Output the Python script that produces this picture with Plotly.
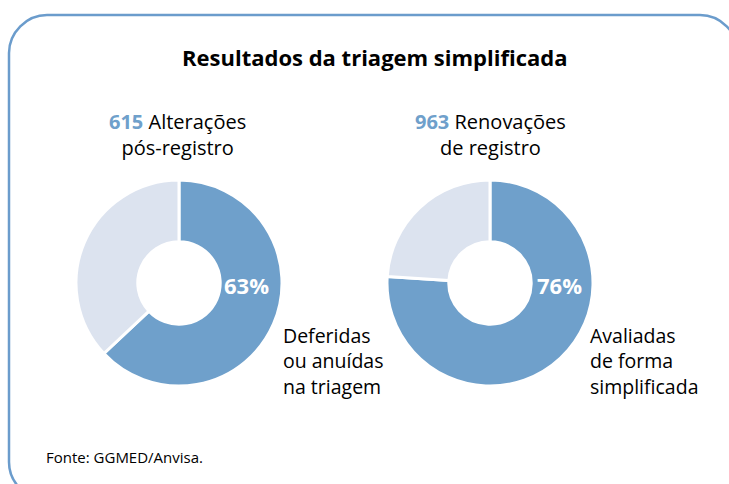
import plotly.graph_objects as go

W, H = 729, 484

title = "Resultados da triagem simplificada"
totals = [615, 963]
total_labels = [["Alterações", "pós-registro"], ["Renovações", "de registro"]]
slice_names = ["Simplificada", "Outras"]
shares = [[63, 37], [76, 24]]
pct_labels = ["63%", "76%"]
side_labels = [["Deferidas", "ou anuídas", "na triagem"], ["Avaliadas", "de forma", "simplificada"]]
source = "Fonte: GGMED/Anvisa."

BLUE = "#6fa0cb"
LIGHT = "#dce3ef"
BORDER = "#6b9ccc"
FONT = "Open Sans"

def px(x):
    return x / W

def py(y):
    return 1 - y / H

fig = go.Figure()

centers = [(179, 283), (490, 283)]
R = 103
for i, (cx, cy) in enumerate(centers):
    fig.add_trace(go.Pie(
        labels=slice_names,
        values=shares[i],
        sort=False,
        direction="clockwise",
        rotation=0,
        hole=0.4,
        marker=dict(colors=[BLUE, LIGHT], line=dict(color="white", width=3)),
        textinfo="none",
        hoverinfo="label+percent",
        domain=dict(x=[px(cx - R), px(cx + R)], y=[py(cy + R), py(cy - R)]),
        showlegend=False,
    ))

annotations = []
annotations.append(dict(text=f"<b>{title}</b>", x=px(375), y=py(57), xref="paper", yref="paper",
                        showarrow=False, font=dict(family=FONT, size=22, color="black"),
                        xanchor="center", yanchor="middle"))
tops = [(177, 122), (490, 122)]
for i, (tx, ty) in enumerate(tops):
    txt = f"<b><span style='color:{BLUE}'>{totals[i]}</span></b> {total_labels[i][0]}<br>{total_labels[i][1]}"
    annotations.append(dict(text=txt, x=px(tx), y=py(ty + 12), xref="paper", yref="paper",
                            showarrow=False, font=dict(family=FONT, size=20, color="black"),
                            xanchor="center", yanchor="middle", align="center"))
pcts = [(246, 285), (559, 285)]
for i, (tx, ty) in enumerate(pcts):
    annotations.append(dict(text=f"<b>{pct_labels[i]}</b>", x=px(tx), y=py(ty), xref="paper", yref="paper",
                            showarrow=False, font=dict(family=FONT, size=22, color="white"),
                            xanchor="center", yanchor="middle"))
sides = [(281, 361), (588, 361)]
for i, (tx, ty) in enumerate(sides):
    annotations.append(dict(text="<br>".join(side_labels[i]), x=px(tx), y=py(ty), xref="paper", yref="paper",
                            showarrow=False, font=dict(family=FONT, size=19.5, color="black"),
                            xanchor="left", yanchor="middle", align="left"))
annotations.append(dict(text=source, x=px(44), y=py(457), xref="paper", yref="paper",
                        showarrow=False, font=dict(family=FONT, size=15, color="black"),
                        xanchor="left", yanchor="middle"))

# rounded frame
L, T, Rr, B, r = 9, 15, 738, 500, 38
k = 0.54 * r
pts = [
    f"M {px(L+r)},{py(T)}",
    f"L {px(Rr-r)},{py(T)}",
    f"C {px(Rr-r+k)},{py(T)} {px(Rr)},{py(T+r-k)} {px(Rr)},{py(T+r)}",
    f"L {px(Rr)},{py(B-r)}",
    f"C {px(Rr)},{py(B-r+k)} {px(Rr-r+k)},{py(B)} {px(Rr-r)},{py(B)}",
    f"L {px(L+r)},{py(B)}",
    f"C {px(L+r-k)},{py(B)} {px(L)},{py(B-r+k)} {px(L)},{py(B-r)}",
    f"L {px(L)},{py(T+r)}",
    f"C {px(L)},{py(T+r-k)} {px(L+r-k)},{py(T)} {px(L+r)},{py(T)} Z",
]
shapes = [dict(type="path", path=" ".join(pts), xref="paper", yref="paper",
               line=dict(color=BORDER, width=2.5), fillcolor="rgba(0,0,0,0)", layer="below")]

fig.update_layout(
    width=W, height=H,
    margin=dict(l=0, r=0, t=0, b=0),
    paper_bgcolor="white", plot_bgcolor="white",
    annotations=annotations,
    shapes=shapes,
    font=dict(family=FONT),
)

fig.write_html("out.html", config={"displayModeBar": False},
               post_script="document.body.style.margin='0';document.body.style.overflow='hidden';")
